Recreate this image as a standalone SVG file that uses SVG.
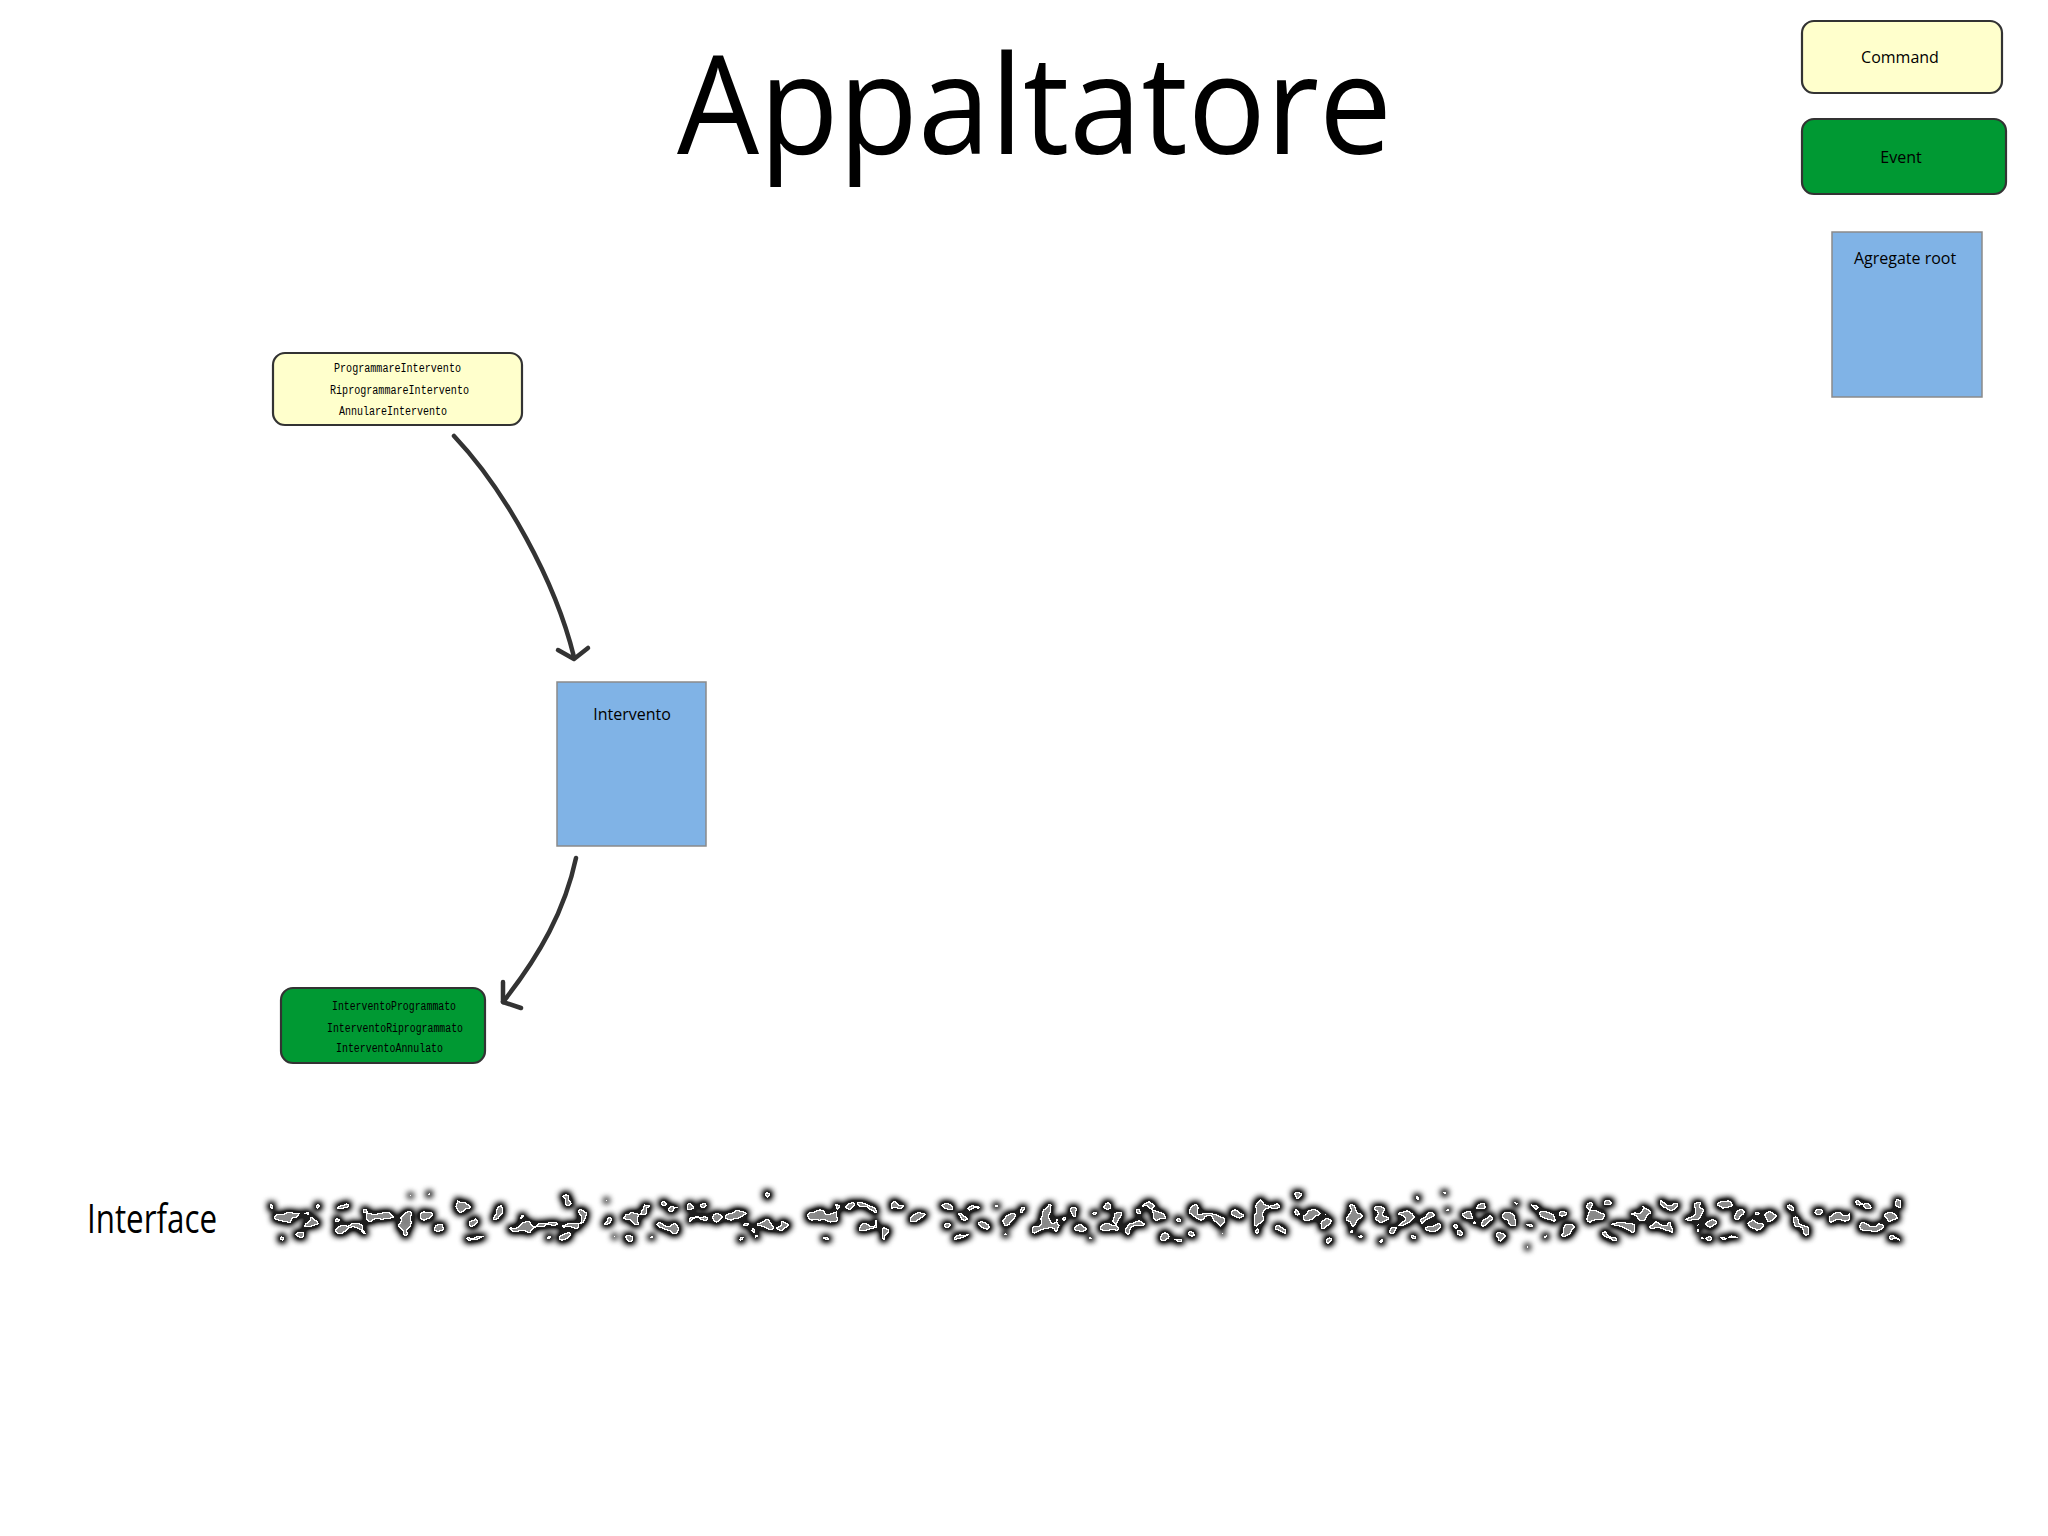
<svg xmlns="http://www.w3.org/2000/svg" width="2048" height="1536" viewBox="0 0 2048 1536">
<defs>
<style>
.sans{font-family:"Open Sans","Noto Sans","Liberation Sans",sans-serif;fill:#000}
.mono{font-family:"Liberation Mono","DejaVu Sans Mono",monospace;font-size:12.5px;fill:#000}
.cmd{fill:#ffffcc;stroke:#333;stroke-width:2.2}
.evt{fill:#009933;stroke:#333;stroke-width:2.2}
.agg{fill:#80b3e6;stroke:#8a8a8a;stroke-width:1.5}
.conn{fill:none;stroke:#333;stroke-width:4.5;stroke-linecap:round;stroke-linejoin:round}
</style>
<linearGradient id="band" x1="0" y1="0" x2="0" y2="1">
<stop offset="0" stop-color="#fff" stop-opacity="0.6"/>
<stop offset="0.3" stop-color="#fff" stop-opacity="0.88"/>
<stop offset="0.5" stop-color="#fff" stop-opacity="1"/>
<stop offset="0.7" stop-color="#fff" stop-opacity="0.88"/>
<stop offset="1" stop-color="#fff" stop-opacity="0.6"/>
</linearGradient>
<filter id="bubbles" filterUnits="userSpaceOnUse" x="245" y="1160" width="1690" height="120" color-interpolation-filters="sRGB">
<feTurbulence type="fractalNoise" baseFrequency="0.075 0.09" numOctaves="2" seed="11" result="t"/>
<feColorMatrix in="t" type="matrix" values="0 0 0 0 0  0 0 0 0 0  0 0 0 0 0  1 0 0 0 0" result="ta"/>
<feComposite in="ta" in2="SourceGraphic" operator="arithmetic" k1="1" k2="0" k3="0" k4="0" result="m"/>
<feGaussianBlur in="m" stdDeviation="1.5" result="mb"/>
<feComponentTransfer in="mb" result="blob">
<feFuncA type="discrete" tableValues="0 0 0 0 0 0 0 0 0 0 0 1 1 1 1 1 1 1 1 1"/>
</feComponentTransfer>
<feMorphology in="blob" operator="dilate" radius="1.5" result="dil"/>
<feGaussianBlur in="dil" stdDeviation="3" result="gb"/>
<feComponentTransfer in="gb" result="gb2"><feFuncA type="linear" slope="1.8" intercept="0"/></feComponentTransfer>
<feFlood flood-color="#1e1e1e"/>
<feComposite in2="gb2" operator="in" result="glow"/>
<feFlood flood-color="#ffffff"/>
<feComposite in2="blob" operator="in" result="rim"/>
<feMorphology in="blob" operator="erode" radius="1.3" result="inner"/>
<feFlood flood-color="#8c8c8c"/>
<feComposite in2="inner" operator="in" result="innerc"/>
<feMorphology in="blob" operator="erode" radius="3.5" result="core"/>
<feGaussianBlur in="core" stdDeviation="2.5" result="coreb"/>
<feFlood flood-color="#4a4a4a"/>
<feComposite in2="coreb" operator="in" result="corec"/>
<feComposite in="corec" in2="inner" operator="in" result="corein"/>
<feMerge>
<feMergeNode in="glow"/>
<feMergeNode in="rim"/>
<feMergeNode in="innerc"/>
<feMergeNode in="corein"/>
</feMerge>
</filter>
</defs>
<rect x="0" y="0" width="2048" height="1536" fill="#fff"/>

<g id="title">
<text class="sans" x="677" y="154" font-size="137" textLength="715" lengthAdjust="spacingAndGlyphs">Appaltatore</text>
</g>

<g id="legend-command">
<rect class="cmd" x="1802" y="21" width="200" height="72" rx="12"/>
<text class="sans" x="1900" y="63" font-size="16" text-anchor="middle">Command</text>
</g>
<g id="legend-event">
<rect class="evt" x="1802" y="119" width="204" height="75" rx="12"/>
<text class="sans" x="1901" y="163" font-size="16" text-anchor="middle">Event</text>
</g>
<g id="legend-aggregate">
<rect class="agg" x="1832" y="232" width="150" height="165"/>
<text class="sans" x="1905" y="264" font-size="16" text-anchor="middle">Agregate root</text>
</g>

<g id="commands">
<rect class="cmd" x="273" y="353" width="249" height="72" rx="12"/>
<text class="mono" x="334" y="372" textLength="127" lengthAdjust="spacingAndGlyphs" fill="#333">ProgrammareIntervento</text>
<text class="mono" x="330" y="394" textLength="139" lengthAdjust="spacingAndGlyphs">RiprogrammareIntervento</text>
<text class="mono" x="339" y="415" textLength="108" lengthAdjust="spacingAndGlyphs">AnnulareIntervento</text>
</g>

<g id="intervento">
<rect class="agg" x="557" y="682" width="149" height="164"/>
<text class="sans" x="632" y="720" font-size="16" text-anchor="middle">Intervento</text>
</g>

<g id="events">
<rect class="evt" x="281" y="988" width="204" height="75" rx="12"/>
<text class="mono" x="332" y="1010" textLength="124" lengthAdjust="spacingAndGlyphs">InterventoProgrammato</text>
<text class="mono" x="327" y="1032" textLength="136" lengthAdjust="spacingAndGlyphs">InterventoRiprogrammato</text>
<text class="mono" x="336" y="1052" textLength="107" lengthAdjust="spacingAndGlyphs">InterventoAnnulato</text>
</g>

<g id="connectors">
<path class="conn" d="M454,436 C505,490 555,580 574,657"/>
<polyline class="conn" points="558,650 574,659 588,648"/>
<path class="conn" d="M576,858 C565,910 540,955 503,1002"/>
<polyline class="conn" points="503,982 503,1002 521,1008"/>
</g>

<g id="interface">
<text class="sans" x="87" y="1233" font-size="40" textLength="130" lengthAdjust="spacingAndGlyphs">Interface</text>
<rect x="268" y="1185" width="1636" height="68" fill="url(#band)" filter="url(#bubbles)"/>
</g>
</svg>
